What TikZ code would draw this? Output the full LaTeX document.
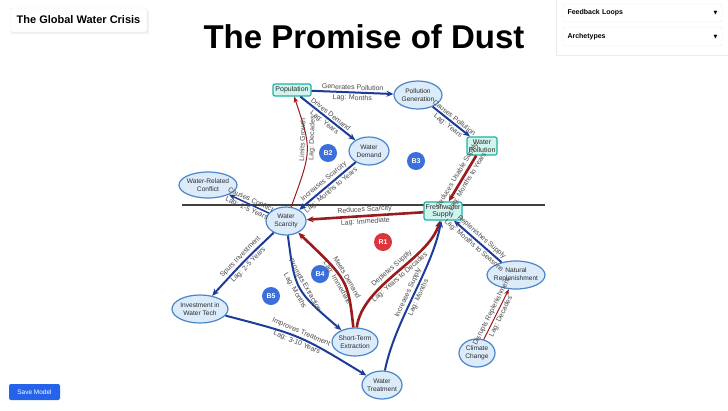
\documentclass[tikz,border=0pt]{standalone}
\usepackage{fontspec}
\setmainfont{Liberation Sans}
\newfontfamily\symfont{DejaVu Sans}
\usepackage{xcolor}
\usetikzlibrary{shapes.geometric, arrows.meta, positioning, calc}
\definecolor{WaterNavy}{HTML}{1D3C9A}
\definecolor{WaterRed}{HTML}{991B1B}
\definecolor{EllipseFill}{HTML}{DCEBFA}
\definecolor{EllipseDraw}{HTML}{4A86C8}
\definecolor{BoxFill}{HTML}{CFF5EE}
\definecolor{BoxDraw}{HTML}{20B2A0}
\definecolor{LoopBlue}{HTML}{3B6FDB}
\definecolor{LoopRed}{HTML}{D9363E}
\definecolor{LabelGray}{HTML}{4A4A4A}
\definecolor{TextDark}{HTML}{2B2B2B}
\definecolor{ButtonBlue}{HTML}{2563EB}
\tikzset{
    % Node styles
    varnode/.style={
        ellipse,
        draw=EllipseDraw,
        fill=EllipseFill,
        line width=1.2pt,
        inner xsep=-3pt,
        inner ysep=0pt,
        minimum height=28pt,
        align=center,
        text=TextDark,
        font=\fontsize{6.6}{7.6}\selectfont
    },
    stocknode/.style={
        rectangle,
        rounded corners=2pt,
        draw=BoxDraw,
        fill=BoxFill,
        line width=1.2pt,
        inner sep=1pt,
        align=center,
        text=TextDark,
        font=\fontsize{7}{7.5}\selectfont
    },
    looptag/.style={
        circle,
        fill=LoopBlue,
        minimum size=18pt,
        inner sep=0pt,
        text=white,
        font=\fontsize{7}{8}\selectfont\bfseries
    },
    % Arrow styles
    bluearrow/.style={
        -{Stealth[length=7pt,width=6pt]},
        line width=2pt,
        WaterNavy
    },
    redarrow/.style={
        -{Stealth[length=7pt,width=6pt]},
        line width=2.6pt,
        WaterRed
    },
    thinred/.style={
        -{Stealth[length=6pt,width=4.5pt]},
        line width=1pt,
        WaterRed
    },
    % Edge labels
    lbltext/.style={
        inner sep=1.5pt,
        text=LabelGray,
        font=\fontsize{7}{8}\selectfont
    },
    lbl/.style={lbltext, sloped},
    vlbl/.style={lbltext, rotate=88},
    % Page furniture
    panel/.style={
        rectangle,
        draw=gray!18,
        fill=white,
        rounded corners=2pt,
        font=\fontsize{7}{8}\selectfont\bfseries
    }
}

\begin{document}
\begin{tikzpicture}[x=1pt, y=-1pt]
    \useasboundingbox (0,0) rectangle (728,410);
    \fill[white] (0,0) rectangle (728,410);

    % header and controls
    \fill[gray!12] (11,9.5) rectangle (148.5,33.5);
    \node[panel, minimum width=137pt, minimum height=24pt, font=\fontsize{11}{12}\selectfont\bfseries] (crisis) at (78.5,20) {The Global Water Crisis};
    \node[font=\fontsize{33}{36}\selectfont\bfseries] (title) at (364,37) {The Promise of Dust};
    \draw[gray!15, fill=white] (556,-1) rectangle (728,55);
    \node[panel, minimum width=159pt, minimum height=18pt, text width=150pt] (loops) at (642.5,13) {Feedback Loops\hfill{\symfont\fontsize{5}{6}\selectfont ▼}};
    \node[panel, minimum width=159pt, minimum height=19pt, text width=150pt] (arche) at (642.5,36.5) {Archetypes\hfill{\symfont\fontsize{5}{6}\selectfont ▼}};
    \node[rectangle, rounded corners=2pt, fill=ButtonBlue, text=white, minimum width=51pt, minimum height=16pt, font=\fontsize{6.5}{7}\selectfont] (save) at (34.5,392) {Save Model};

    % divider
    \coordinate (lineL) at (182,205);
    \coordinate (lineR) at (545,205);
    \draw[line width=1.2pt, black!75] (lineL) -- (lineR);

    % variables
    \node[stocknode, minimum width=38pt, minimum height=12pt] (pop) at (292,90) {Population};
    \node[varnode, minimum width=48pt] (polgen) at (418,95) {Pollution\\Generation};
    \node[varnode, minimum width=40pt] (demand) at (369,151) {Water\\Demand};
    \node[stocknode, minimum width=30pt, minimum height=18pt] (wpoll) at (482,146) {Water\\Pollution};
    \node[varnode, minimum width=58pt, minimum height=26pt] (conflict) at (208,185) {Water-Related\\Conflict};
    \node[varnode, minimum width=40pt] (scarcity) at (286,221) {Water\\Scarcity};
    \node[stocknode, minimum width=38pt, minimum height=18pt] (fresh) at (443,211) {Freshwater\\Supply};
    \node[varnode, minimum width=58pt] (replen) at (516,275) {Natural\\Replenishment};
    \node[varnode, minimum width=56pt] (invest) at (200,309) {Investment in\\Water Tech};
    \node[varnode, minimum width=46pt] (extract) at (355,342) {Short-Term\\Extraction};
    \node[varnode, minimum width=36pt] (climate) at (477,353) {Climate\\Change};
    \node[varnode, minimum width=40pt] (treat) at (382,385) {Water\\Treatment};

    % loop markers
    \node[looptag] (b2) at (328,153) {B2};
    \node[looptag] (b3) at (416,161) {B3};
    \node[looptag, fill=LoopRed] (r1) at (383,242) {R1};
    \node[looptag] (b4) at (320,274) {B4};
    \node[looptag] (b5) at (271,296) {B5};

    % links
    \draw[bluearrow] (pop) -- node[lbl, above]{Generates Pollution} node[lbl, below]{Lag: Months} (polgen);
    \draw[bluearrow] (pop) -- node[lbl, above]{Drives Demand} node[lbl, below]{Lag: Years} (demand);
    \draw[bluearrow] (polgen) -- node[lbl, above]{Causes Pollution} node[lbl, below]{Lag: Years} (wpoll);
    \draw[redarrow] (wpoll) -- node[lbl, above]{Reduces Usable Supply} node[lbl, below]{Lag: Months to Years} (fresh);
    \draw[bluearrow] (demand) -- node[lbl, above]{Increases Scarcity} node[lbl, below]{Lag: Months to Years} (scarcity);
    \draw[redarrow] (fresh) -- node[lbl, above]{Reduces Scarcity} node[lbl, below]{Lag: Immediate} (scarcity);
    \draw[bluearrow, line width=1.5pt] (scarcity) -- node[lbl, above]{Causes Conflict} node[lbl, below]{Lag: 1-5 Years} (conflict);
    \draw[thinred] (scarcity) .. controls (312,150) .. (pop) node[vlbl, anchor=south, pos=0.6, xshift=2pt]{Limits Growth} node[vlbl, anchor=north, pos=0.6, xshift=4pt]{Lag: Decades};
    \draw[bluearrow] (scarcity) .. controls (245,260) .. (invest) node[lbl, above, pos=0.5]{Spurs Investment} node[lbl, below, pos=0.5]{Lag: 2-5 Years};
    \draw[bluearrow] (scarcity) .. controls (295,290) .. (extract) node[lbl, above, pos=0.5]{Prompts Extraction} node[lbl, below, pos=0.5]{Lag: Months};
    \draw[redarrow] (extract) .. controls (348,280) .. (scarcity) node[lbl, above, pos=0.5]{Meets Demand} node[lbl, below, pos=0.5]{Lag: Immediate};
    \draw[redarrow] (extract) .. controls (362,285) and (428,260) .. (fresh) node[lbl, above, pos=0.5]{Depletes Supply} node[lbl, below, pos=0.5]{Lag: Years to Decades};
    \draw[bluearrow] (treat) .. controls (395,320) and (432,270) .. (fresh) node[lbl, above, pos=0.5]{Increases Supply} node[lbl, below, pos=0.5]{Lag: Months};
    \draw[bluearrow] (replen) -- node[lbl, above]{Replenishes Supply} node[lbl, below]{Lag: Months to Seasons} (fresh);
    \draw[thinred] (climate) -- node[lbl, above]{Disrupts Replenishment} node[lbl, below]{Lag: Decades} (replen);
    \draw[bluearrow] (invest) .. controls (300,335) .. (treat) node[lbl, above, pos=0.5]{Improves Treatment} node[lbl, below, pos=0.5]{Lag: 3-10 Years};
\end{tikzpicture}
\end{document}
